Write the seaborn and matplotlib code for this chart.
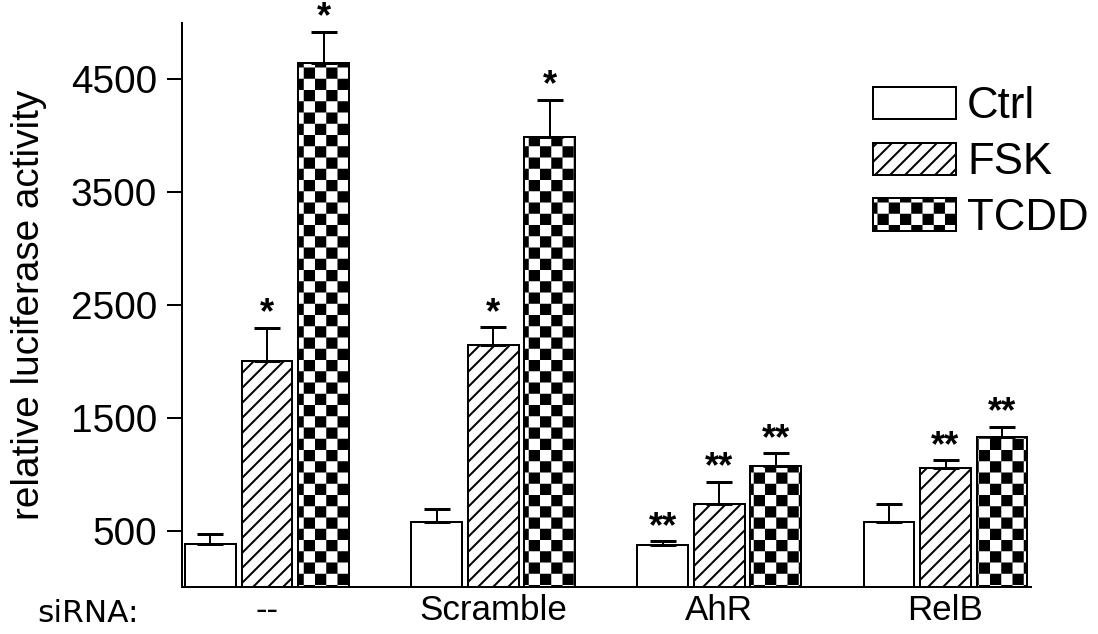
import numpy as np
import pandas as pd
import seaborn as sns
import matplotlib.pyplot as plt
import matplotlib.hatch as mhatch
from matplotlib.path import Path

groups = ['--', 'Scramble', 'AhR', 'RelB']
treatments = ['Ctrl', 'FSK', 'TCDD']
ctrl = [380, 575, 375, 580]
ctrl_err = [88, 118, 30, 154]
fsk = [2000, 2145, 735, 1058]
fsk_err = [300, 160, 200, 66]
tcdd = [4645, 3990, 1073, 1333]
tcdd_err = [277, 330, 113, 88]
ctrl_stars = ['', '', '**', '']
fsk_stars = ['*', '*', '**', '**']
tcdd_stars = ['*', '*', '**', '**']
yticks = [500, 1500, 2500, 3500, 4500]


class CheckerHatch(mhatch.HatchPatternBase):
    # filled checkerboard squares, drawn for the '.' hatch character
    def __init__(self, hatch, density):
        self.n = 8 if '.' in hatch else 0
        self.num_vertices = self.n * self.n // 2 * 5

    def set_vertices_and_codes(self, vertices, codes):
        s = 1.0 / self.n
        d = 0.011  # inset, the hatch stroke widens every square a bit
        k = 0
        for i in range(self.n):
            for j in range(self.n):
                if (i + j) % 2:
                    continue
                x0, y0 = i * s + d, j * s + d
                x1, y1 = (i + 1) * s - d, (j + 1) * s - d
                vertices[k:k + 5] = [(x0, y0), (x1, y0), (x1, y1), (x0, y1), (x0, y0)]
                codes[k:k + 5] = [Path.MOVETO, Path.LINETO, Path.LINETO, Path.LINETO, Path.CLOSEPOLY]
                k += 5


mhatch._hatch_types = [h for h in mhatch._hatch_types if h is not mhatch.SmallFilledCircles] + [CheckerHatch]

sns.set_theme(style='ticks')
plt.rcParams['font.family'] = ['Liberation Sans', 'DejaVu Sans']
plt.rcParams['hatch.linewidth'] = 1.6
plt.rcParams['hatch.color'] = 'black'
plt.rcParams['text.color'] = 'black'
plt.rcParams['axes.labelcolor'] = 'black'
plt.rcParams['xtick.color'] = 'black'
plt.rcParams['ytick.color'] = 'black'

df = pd.DataFrame({
    'siRNA': groups * 3,
    'treatment': np.repeat(treatments, len(groups)),
    'value': ctrl + fsk + tcdd,
})

DPI = 90
fig, ax = plt.subplots(figsize=(1098 / DPI, 634 / DPI), dpi=DPI)
fig.subplots_adjust(left=182 / 1098, right=1031 / 1098, top=1 - 23 / 634, bottom=1 - 587 / 634)

sns.barplot(data=df, x='siRNA', y='value', hue='treatment', order=groups, hue_order=treatments,
            width=0.75, gap=0.1, errorbar=None, legend=False, ax=ax)
bar_containers = list(ax.containers)

hatches = ['', '//', '.']
errs = [ctrl_err, fsk_err, tcdd_err]
stars = [ctrl_stars, fsk_stars, tcdd_stars]
for cont, hatch, err, st in zip(bar_containers, hatches, errs, stars):
    xs, ys = [], []
    for bar in cont:
        bar.set_facecolor('white')
        bar.set_edgecolor('black')
        bar.set_linewidth(1.6)
        bar.set_hatch(hatch)
        xs.append(bar.get_x() + bar.get_width() / 2)
        ys.append(bar.get_height())
    ax.errorbar(xs, ys, yerr=[np.zeros(len(err)), err], fmt='none', ecolor='black',
                elinewidth=1.6, capsize=10.5, capthick=2.4)
    for x, y, e, s in zip(xs, ys, err, st):
        ax.annotate(s, (x, y + e), xytext=(0, -3), textcoords='offset points',
                    ha='center', va='bottom', fontsize=29, fontweight='bold',
                    annotation_clip=False)

handles = [cont.patches[0] for cont in bar_containers]
ax.legend(handles, treatments, loc='upper left', bbox_to_anchor=(873 / 1098, 1 - 86 / 634),
          bbox_transform=fig.transFigure, frameon=False, fontsize=35, handlelength=1.9,
          handleheight=0.75, handletextpad=0.25, labelspacing=0.34, borderpad=0, borderaxespad=0)

ax.set_xlim(-0.376, 3.378)
ax.set_ylim(0, 5000)
ax.set_yticks(yticks)
ax.set_xlabel('')
ax.set_ylabel('relative luciferase activity', fontsize=31)
ax.yaxis.set_label_coords(-0.159, 0.5)
sns.despine(ax=ax)
for sp in ['left', 'bottom']:
    ax.spines[sp].set_linewidth(1.6)
    ax.spines[sp].set_color('black')
ax.tick_params(axis='y', length=12, width=1.6, pad=8, labelsize=31, colors='black')
ax.tick_params(axis='x', length=0, pad=6, labelsize=28, colors='black')

fig.text(37 / 1098, 1 - 622 / 634, 'siRNA:', family='DejaVu Sans', fontsize=25,
         ha='left', va='baseline')

fig.savefig('out.png', dpi=DPI)
